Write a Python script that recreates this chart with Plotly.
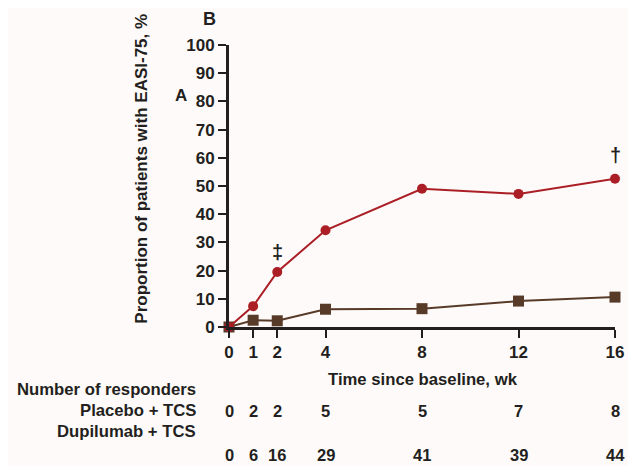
import plotly.graph_objects as go

weeks = [0, 1, 2, 4, 8, 12, 16]
dupilumab_pct = [0, 7.4, 19.5, 34.3, 49.0, 47.2, 52.6]
placebo_pct = [0, 2.4, 2.2, 6.3, 6.5, 9.2, 10.6]
placebo_n = [0, 2, 2, 5, 5, 7, 8]
dupilumab_n = [0, 6, 16, 29, 41, 39, 44]
y_ticks = list(range(0, 101, 10))

RED = "#ab1e25"
BROWN = "#583a28"
INK = "#231f20"
BG = "#fefaf9"
FONT = "Liberation Sans, Arial, sans-serif"

fig = go.Figure()
fig.add_trace(go.Scatter(
    x=weeks, y=placebo_pct, mode="lines+markers",
    line=dict(color=BROWN, width=2),
    marker=dict(symbol="square", size=11, color=BROWN),
    cliponaxis=False, showlegend=False, name="Placebo + TCS"))
fig.add_trace(go.Scatter(
    x=weeks, y=dupilumab_pct, mode="lines+markers",
    line=dict(color=RED, width=2),
    marker=dict(symbol="circle", size=10, color=RED),
    cliponaxis=False, showlegend=False, name="Dupilumab + TCS"))

# page body has an 8px margin in the browser
OFF = 8
W, H = 628, 458
L, R, T, B = 221, 17, 37, 138.5
pw = W - L - R
ph = H - T - B

def py(sy):
    return (H - B - (sy - OFF)) / ph

def px(sx):
    return (sx - OFF - L) / pw

ann = []
def add(x, y, text, size, xref="paper", yref="paper", xanchor="center", angle=0):
    ann.append(dict(x=x, y=y, xref=xref, yref=yref, text=text, showarrow=False,
                    xanchor=xanchor, yanchor="middle", textangle=angle,
                    font=dict(size=size, color=INK, family=FONT)))

add(2, 26.5, "<b>‡</b>", 20, xref="x", yref="y")
add(16, 61, "<b>†</b>", 20, xref="x", yref="y")
add(px(209), py(19), "<b>B</b>", 18)
add(px(180), py(96), "<b>A</b>", 17)
add(px(141), py(169), "<b>Proportion of patients with EASI-75, %</b>", 17, angle=-90)
add(px(425), py(380), "<b>Time since baseline, wk</b>", 16.7)
for label, yy in [("Number of responders", 390), ("Placebo + TCS", 411), ("Dupilumab + TCS", 432)]:
    add(px(198), py(yy), f"<b>{label}</b>", 16.7, xanchor="right")
for w, n in zip(weeks, placebo_n):
    add(w, py(412), f"<b>{n}</b>", 16.5, xref="x")
for w, n in zip(weeks, dupilumab_n):
    add(w, py(456), f"<b>{n}</b>", 16.5, xref="x")

fig.update_layout(
    width=W, height=H,
    margin=dict(l=L, r=R, t=T, b=B),
    paper_bgcolor=BG, plot_bgcolor=BG,
    font=dict(family=FONT, color=INK),
    annotations=ann,
    xaxis=dict(range=[0, 16], tickvals=weeks, ticktext=[f"<b>{w}</b>" for w in weeks],
               showgrid=False, zeroline=False, showline=True, linecolor=INK, linewidth=3,
               ticks="outside", ticklen=8, tickwidth=2, tickcolor=INK,
               tickfont=dict(size=17, color=INK)),
    yaxis=dict(range=[0, 100], tickvals=y_ticks, ticktext=[f"<b>{v}</b>" for v in y_ticks],
               showgrid=False, zeroline=False, showline=True, linecolor=INK, linewidth=3,
               ticks="outside", ticklen=8, tickwidth=2, tickcolor=INK,
               tickfont=dict(size=17, color=INK)),
)

fig.write_html("out.html")
